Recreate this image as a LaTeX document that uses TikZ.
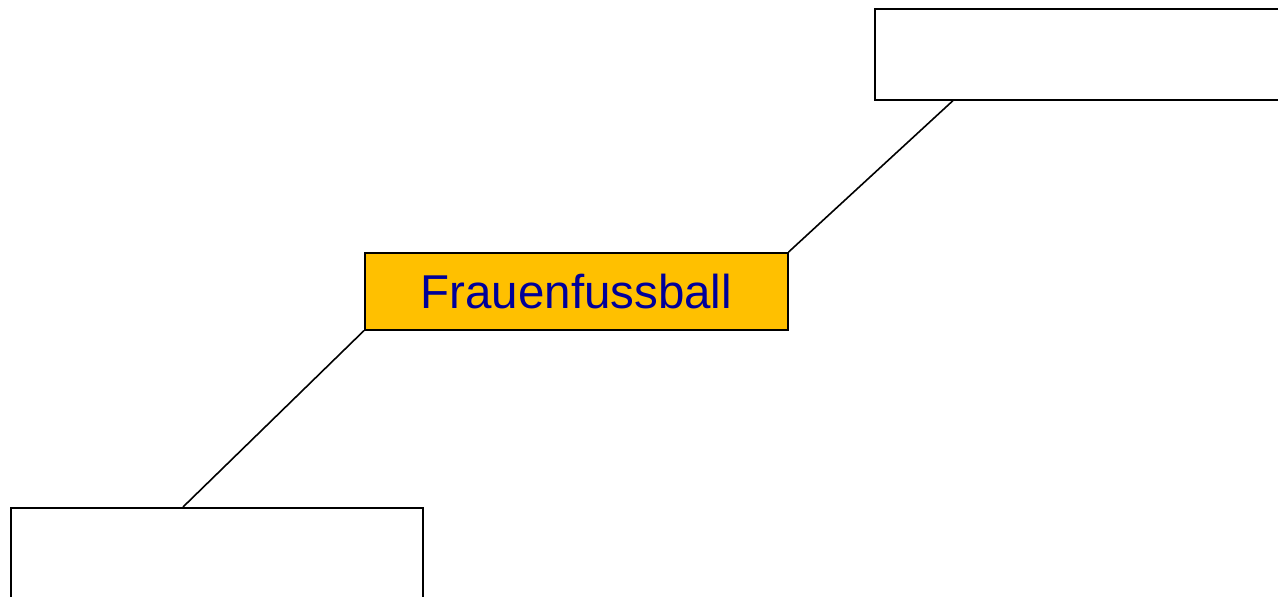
\documentclass[tikz,border=0pt]{standalone}
\usepackage{fontspec}
\setmainfont{Liberation Sans}
\definecolor{boxorange}{RGB}{255,192,0}
\definecolor{labelblue}{RGB}{0,0,153}
\begin{document}
\begin{tikzpicture}[x=1pt,y=-1pt,
  box/.style={draw=black,line width=1.6pt,fill=white,inner sep=0pt,anchor=north west,
    minimum width=412pt,minimum height=91pt},
  topic/.style={draw=black,line width=1.6pt,fill=boxorange,inner sep=0pt,anchor=north west,
    minimum width=423pt,minimum height=77pt,text=labelblue,font=\fontsize{47.5}{56}\selectfont},
  link/.style={draw=black,line width=1.6pt}]
\useasboundingbox (0,0) rectangle (1278,597);
\clip (0,0) rectangle (1278,597);
% branches
\node[box] (upper) at (874,8) {};
\node[box] (lower) at (10,507) {};
\node[topic] (main) at (364,252) {Frauenfussball};
% connectors
\draw[link] (main.north east) -- ([xshift=79pt]upper.south west);
\draw[link] (main.south west) -- ([xshift=173pt]lower.north west);
\end{tikzpicture}
\end{document}
